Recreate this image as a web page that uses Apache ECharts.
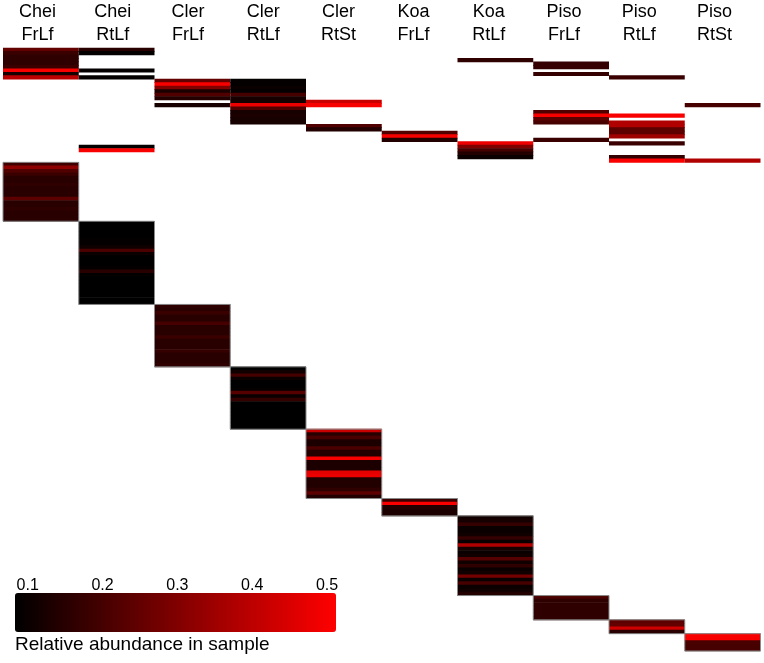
<!DOCTYPE html>
<html><head><meta charset="utf-8">
<script src="https://cdn.jsdelivr.net/npm/echarts@6/dist/echarts.min.js"></script>
<style>html,body{margin:0;padding:0;background:#fff}#c{width:764px;height:663px}</style>
</head><body><div id="c"></div>
<script>
// ---------- data ----------
const samples = ['Chei FrLf', 'Chei RtLf', 'Cler FrLf', 'Cler RtLf', 'Cler RtSt',
                 'Koa FrLf', 'Koa RtLf', 'Piso FrLf', 'Piso RtLf', 'Piso RtSt'];
const otuCount = 174;
const firstUniqueOtu = 33;
const legendTicks = [0.1, 0.2, 0.3, 0.4, 0.5];
const legendTitle = 'Relative abundance in sample';

// OTUs shared between samples (top block): [otu index, relative abundance]
const sharedCheiFrLf = [[0,.25],[1,.18],[2,.16],[3,.16],[4,.16],[5,.18],[6,.5],[7,.12],[8,.4]];
const sharedCheiRtLf = [[0,.15],[1,.09],[6,.09],[8,.09],[28,.09],[29,.5]];
const sharedClerFrLf = [[9,.25],[10,.5],[11,.3],[12,.13],[13,.22],[14,.14],[16,.12]];
const sharedClerRtLf = [[9,.09],[10,.09],[11,.1],[12,.09],[13,.2],[14,.12],[15,.12],[16,.48],[17,.22],[18,.12],[19,.13],[20,.12],[21,.12]];
const sharedClerRtSt = [[15,.42],[16,.5],[22,.22],[23,.14]];
const sharedKoaFrLf  = [[24,.22],[25,.5],[26,.14]];
const sharedKoaRtLf  = [[3,.16],[27,.48],[28,.3],[29,.2],[30,.14],[31,.1]];
const sharedPisoFrLf = [[4,.17],[5,.17],[7,.17],[18,.22],[19,.5],[20,.24],[21,.2],[26,.18]];
const sharedPisoRtLf = [[8,.18],[19,.5],[21,.38],[22,.38],[23,.24],[24,.24],[25,.35],[27,.18],[31,.17],[32,.5]];
const sharedPisoRtSt = [[16,.2],[32,.38]];

// OTUs found only in one sample (diagonal blocks), in order
const uniqueCheiFrLf = [0.19,0.32,0.22,0.18,0.15,0.15,0.16,0.15,0.15,0.15,0.24,0.15,0.15,0.16,0.15,0.15,0.15];
const uniqueCheiRtLf = [0.08,0.08,0.08,0.08,0.08,0.09,0.09,0.11,0.21,0.1,0.08,0.08,0.08,0.09,0.15,0.09,0.08,0.08,0.08,0.08,0.08,0.08,0.08,0.08];
const uniqueClerFrLf = [0.16,0.15,0.18,0.15,0.15,0.2,0.15,0.15,0.15,0.18,0.15,0.15,0.15,0.17,0.15,0.15,0.15,0.16];
const uniqueClerRtLf = [0.08,0.11,0.2,0.1,0.08,0.08,0.09,0.23,0.1,0.17,0.08,0.08,0.08,0.08,0.08,0.08,0.08,0.08];
const uniqueClerRtSt = [0.42,0.15,0.21,0.13,0.13,0.21,0.14,0.14,0.5,0.13,0.13,0.13,0.47,0.48,0.14,0.14,0.14,0.16,0.24,0.14];
const uniqueKoaFrLf  = [0.18,0.5,0.14,0.13,0.13];
const uniqueKoaRtLf  = [0.11,0.12,0.17,0.1,0.1,0.11,0.17,0.1,0.38,0.12,0.1,0.11,0.23,0.11,0.16,0.1,0.11,0.28,0.1,0.2,0.1,0.11,0.14];
const uniquePisoFrLf = [0.21,0.16,0.16,0.16,0.16,0.16,0.16];
const uniquePisoRtLf = [0.24,0.25,0.43,0.15];
const uniquePisoRtSt = [0.5,0.5,0.21,0.2,0.2];

// ---------- build ----------
const sharedBySample = [sharedCheiFrLf, sharedCheiRtLf, sharedClerFrLf, sharedClerRtLf, sharedClerRtSt,
                        sharedKoaFrLf, sharedKoaRtLf, sharedPisoFrLf, sharedPisoRtLf, sharedPisoRtSt];
const uniqueBySample = [uniqueCheiFrLf, uniqueCheiRtLf, uniqueClerFrLf, uniqueClerRtLf, uniqueClerRtSt,
                        uniqueKoaFrLf, uniqueKoaRtLf, uniquePisoFrLf, uniquePisoRtLf, uniquePisoRtSt];
const otuIds = [];
for (let i = 0; i < otuCount; i++) otuIds.push('OTU' + (i + 1));
const heatData = [];
const blockData = [];
let next = firstUniqueOtu;
samples.forEach((s, si) => {
  sharedBySample[si].forEach(([o, v]) => heatData.push([si, o, v]));
  const start = next;
  uniqueBySample[si].forEach(v => { heatData.push([si, next, v]); next++; });
  blockData.push([si, start, next - 1]);
});

const font = '"Liberation Sans", Arial, Helvetica, sans-serif';
const chart = echarts.init(document.getElementById('c'), null, { renderer: 'canvas' });
chart.setOption({
  backgroundColor: '#ffffff',
  animation: false,
  title: { text: legendTitle, left: 15, top: 635, padding: 0,
           textStyle: { fontSize: 19, fontWeight: 'normal', color: '#000', fontFamily: font } },
  grid: [
    { left: 3, right: 3.5, top: 48, bottom: 12 },
    { left: -2, right: 12, top: 48, height: 1 },
    { left: 15, width: 321, top: 593, height: 39 }
  ],
  xAxis: [
    { type: 'category', data: samples, gridIndex: 0, show: false },
    { type: 'category', data: samples, gridIndex: 1, position: 'top',
      axisLine: { show: false }, axisTick: { show: false }, splitLine: { show: false },
      axisLabel: { interval: 0, margin: 1, fontSize: 18, lineHeight: 23, color: '#000', fontFamily: font,
                   formatter: s => s.replace(' ', '\n') } },
    { type: 'value', gridIndex: 2, min: 0.083, max: 0.512, position: 'top',
      axisLine: { show: false }, axisTick: { show: false }, splitLine: { show: false },
      axisLabel: { customValues: legendTicks, formatter: v => v.toFixed(1), fontSize: 16, margin: -1,
                   color: '#000', fontFamily: font } }
  ],
  yAxis: [
    { type: 'category', data: otuIds, gridIndex: 0, inverse: true, show: false },
    { type: 'value', gridIndex: 1, show: false },
    { type: 'value', gridIndex: 2, show: false }
  ],
  visualMap: {
    type: 'continuous', min: 0.083, max: 0.512, seriesIndex: 0, dimension: 2,
    inRange: { color: ['#000000', '#ff0000'] },
    orient: 'horizontal', left: 15, top: 593, itemWidth: 39, itemHeight: 321,
    padding: 0, calculable: false, hoverLink: false, text: null
  },
  series: [{
    type: 'custom', xAxisIndex: 0, yAxisIndex: 0, data: heatData, silent: true,
    encode: { x: 0, y: 1 },
    renderItem: (params, api) => {
      const c = api.coord([api.value(0), api.value(1)]);
      const s = api.size([1, 1]);
      return { type: 'rect',
               shape: { x: c[0] - s[0] / 2, y: c[1] - s[1] / 2 - 0.35, width: s[0], height: s[1] + 0.7 },
               style: { fill: api.visual('color') } };
    }
  }, {
    type: 'custom', xAxisIndex: 0, yAxisIndex: 0, data: blockData, silent: true,
    encode: { x: 0, y: [1, 2] }, z: 5,
    renderItem: (params, api) => {
      const a = api.coord([api.value(0), api.value(1)]);
      const b = api.coord([api.value(0), api.value(2)]);
      const s = api.size([1, 1]);
      return { type: 'rect',
               shape: { x: a[0] - s[0] / 2, y: a[1] - s[1] / 2, width: s[0], height: b[1] - a[1] + s[1] },
               style: { fill: 'none', stroke: '#8a8a8a', lineWidth: 1 } };
    }
  }]
});
</script></body></html>
